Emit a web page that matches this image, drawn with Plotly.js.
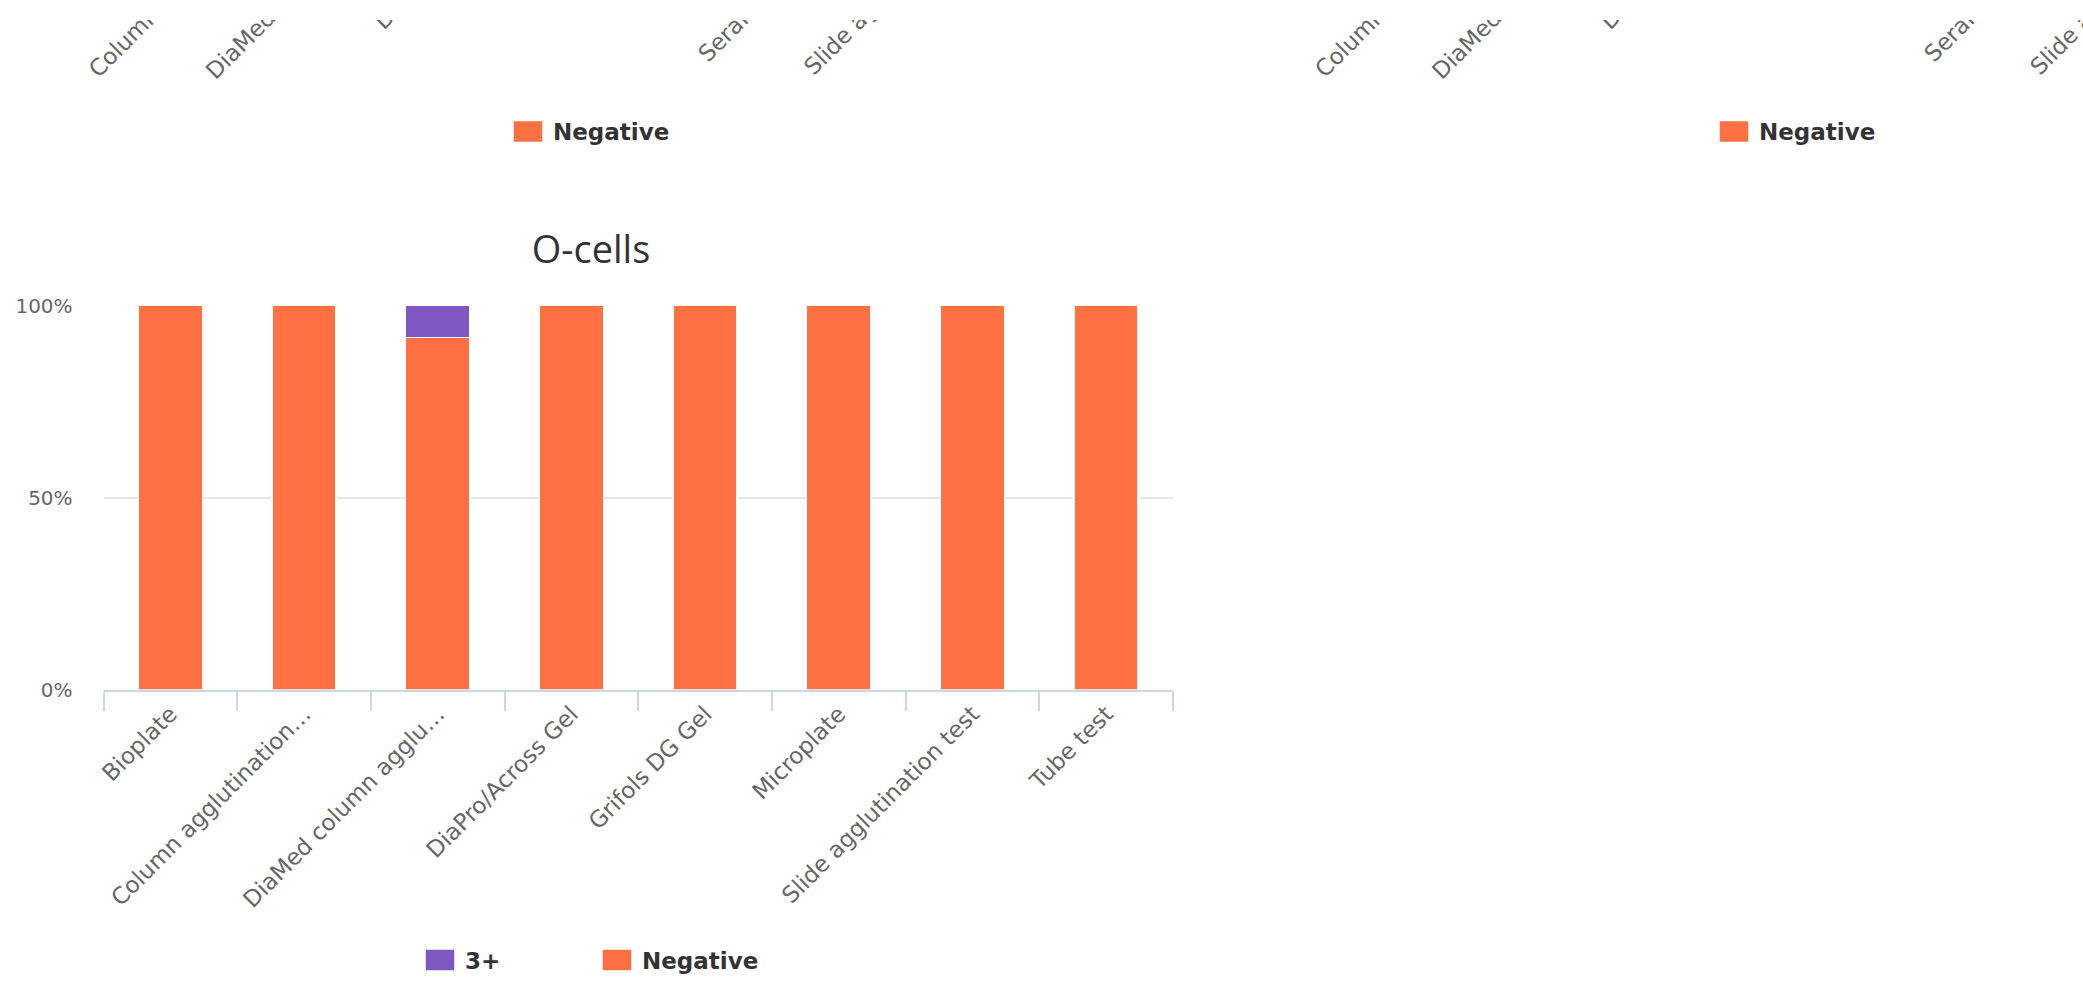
<!DOCTYPE html>
<html><head><meta charset="utf-8">
<script src="https://cdn.plot.ly/plotly-3.0.1.min.js"></script>
<style>
html,body{margin:0;padding:0;overflow:hidden;background:#fff;width:2083px;height:983px;}
#chart{position:absolute;left:0;top:-560px;width:2420px;height:1543px;}
#cover{position:absolute;left:0;top:0;width:2083px;height:20px;background:#fff;z-index:5;}
</style></head><body>
<div id="chart"></div><div id="cover"></div>
<script>
// ---- data ----
const chartTitle = "O-cells";
const categories = ["Bioplate","Column agglutination…","DiaMed column agglu…","DiaPro/Across Gel","Grifols DG Gel","Microplate","Slide agglutination test","Tube test"];
const negative = [100,100,91.7,100,100,100,100,100];
const threePlus = [null,null,8.3,null,null,null,null,null];
const topCategories = ["Bioplate","Column agglutination…","DiaMed column agglu…","DiaPro/Across Gel","Grifols DG Gel","Microplate","Serafol agglutinatio…","Slide agglutination test","Tube test"];
const topLeftNegative = [100,100,100,100,100,100,100,100,100];
const topRightNegative = [100,100,100,100,100,100,100,100,100];
const yTickVals = [0,50,100];
const yTickText = ["0%","50%","100%"];

// ---- layout helpers ----
const W = 2420, H = 1543, S = 560;
const fx = p => p / W;
const fy = p => 1 - (p + S) / H;

const ORANGE = "#FF7043", PURPLE = "#7E57C2";
const xTickFont = {family: "DejaVu Sans", size: 23, color: "#666666"};
const yTickFont = {family: "DejaVu Sans", size: 20, color: "#666666"};
const legFont = {family: "DejaVu Sans", size: 23, color: "#333333", weight: "bold"};

function xAx(d, anchor) {
  return {domain: d, anchor: anchor, type: "category", tickangle: -45, tickfont: xTickFont,
    showline: true, linecolor: "#ccd6eb", linewidth: 2, ticks: "outside", tickson: "boundaries",
    ticklen: 19, tickcolor: "#ccd6eb", tickwidth: 2, showgrid: false, fixedrange: true, automargin: false};
}
function yAx(d, anchor) {
  return {domain: d, anchor: anchor, range: [0, 100], tickvals: yTickVals, ticktext: yTickText,
    tickfont: yTickFont, showgrid: true, gridcolor: "#e6e6e6", gridwidth: 2, zeroline: false,
    showline: false, ticks: "", ticklabelstandoff: 30, fixedrange: true, automargin: false};
}

const bar = (name, x, y, color, xa, ya, leg) => ({
  type: "bar", name: name, x: x, y: y, xaxis: xa, yaxis: ya, legend: leg,
  marker: {color: color, line: {color: "#ffffff", width: 1.5}}, hoverinfo: "skip"
});

const traces = [
  bar("Negative", categories, negative, ORANGE, "x", "y", "legend"),
  bar("3+", categories, threePlus, PURPLE, "x", "y", "legend"),
  bar("Negative", topCategories, topLeftNegative, ORANGE, "x2", "y2", "legend2"),
  bar("Negative", topCategories, topRightNegative, ORANGE, "x3", "y3", "legend3")
];

const legBase = {orientation: "h", xanchor: "left", yanchor: "middle", font: legFont,
  traceorder: "reversed", bgcolor: "rgba(0,0,0,0)"};

const layout = {
  width: W, height: H, margin: {l: 0, r: 0, t: 0, b: 0},
  paper_bgcolor: "#fff", plot_bgcolor: "#fff",
  barmode: "stack", bargap: 0.52, showlegend: true,
  title: {text: chartTitle, x: fx(591), y: fy(250), xref: "paper", yref: "paper",
    xanchor: "center", yanchor: "middle", font: {family: "Open Sans", size: 38, color: "#333333"}},
  xaxis: xAx([fx(103.6), fx(1173)], "y"),
  yaxis: yAx([fy(689.5), fy(305.5)], "x"),
  xaxis2: xAx([fx(103.6), fx(1173)], "y2"),
  yaxis2: yAx([fy(-139), fy(-523)], "x2"),
  xaxis3: xAx([fx(1330), fx(2399)], "y3"),
  yaxis3: yAx([fy(-139), fy(-523)], "x3"),
  legend: Object.assign({}, legBase, {x: fx(425), y: fy(960), entrywidth: 132}),
  legend2: Object.assign({}, legBase, {x: fx(513), y: fy(131.5)}),
  legend3: Object.assign({}, legBase, {x: fx(1719), y: fy(131.5)})
};

function fixLegendSymbols() {
  document.querySelectorAll("#chart .legendpoints path").forEach(p => p.setAttribute("d", "M10,11H-20V-11H10Z"));
}
const gd = document.getElementById("chart");
Plotly.newPlot(gd, traces, layout, {displayModeBar: false}).then(() => {
  fixLegendSymbols();
  gd.on("plotly_afterplot", fixLegendSymbols);
  setTimeout(fixLegendSymbols, 50);
  setTimeout(fixLegendSymbols, 300);
});
</script>
</body></html>
